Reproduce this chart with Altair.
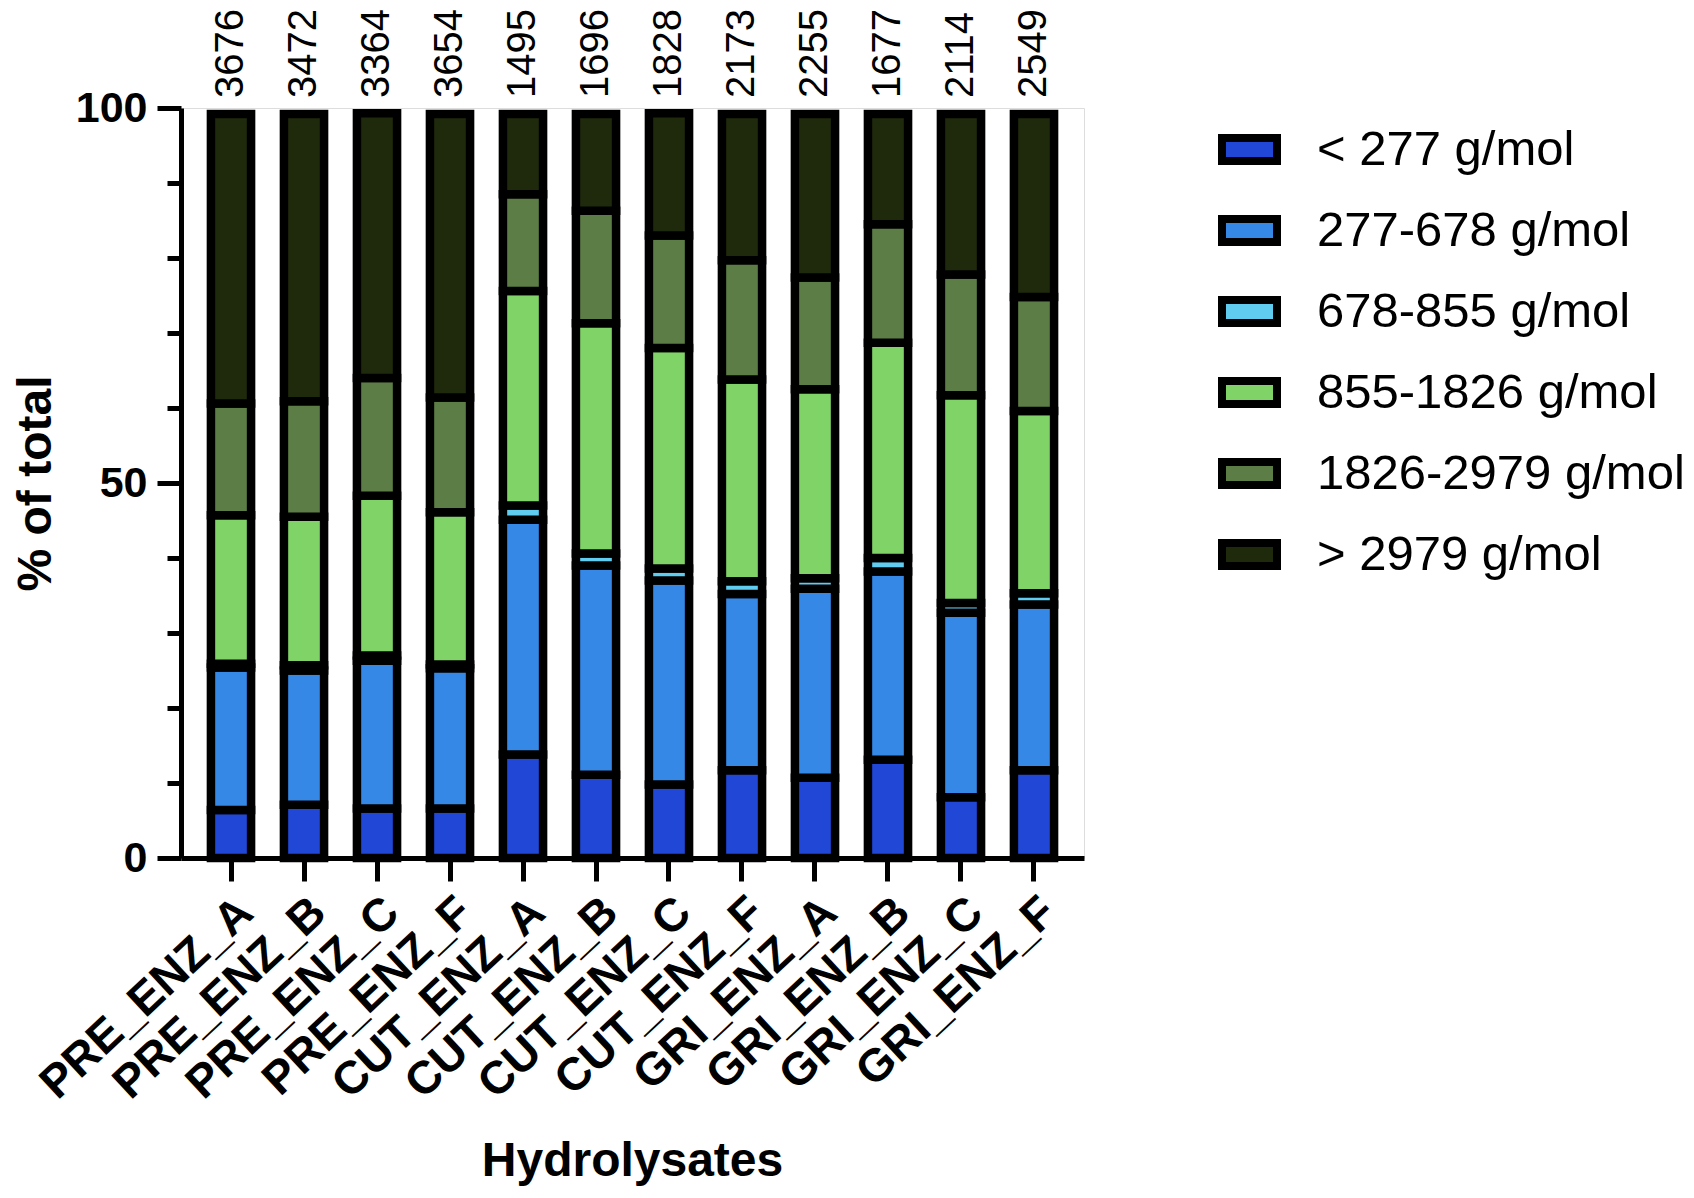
import altair as alt
import pandas as pd

categories = ["PRE_ENZ_A", "PRE_ENZ_B", "PRE_ENZ_C", "PRE_ENZ_F",
              "CUT_ENZ_A", "CUT_ENZ_B", "CUT_ENZ_C", "CUT_ENZ_F",
              "GRI_ENZ_A", "GRI_ENZ_B", "GRI_ENZ_C", "GRI_ENZ_F"]
totals = [3676, 3472, 3364, 3654, 1495, 1696, 1828, 2173, 2255, 1677, 2114, 2549]

series_names = ["< 277 g/mol", "277-678 g/mol", "678-855 g/mol",
                "855-1826 g/mol", "1826-2979 g/mol", "> 2979 g/mol"]
series_colors = ["#2047D6", "#3588E6", "#60CDF0", "#80D467", "#5C7D45", "#1F2A0C"]

lt277 = [6.4, 7.1, 6.6, 6.6, 13.8, 11.1, 9.8, 11.7, 10.7, 13.1, 8.1, 11.7]
s277_678 = [19.0, 17.9, 19.7, 18.7, 31.3, 27.9, 27.2, 23.5, 25.2, 25.1, 24.6, 22.1]
s678_855 = [0.5, 0.7, 0.7, 0.5, 1.9, 1.6, 1.6, 1.7, 1.4, 1.8, 1.3, 1.5]
s855_1826 = [19.8, 19.8, 21.3, 20.3, 28.6, 30.7, 29.4, 26.9, 25.2, 28.7, 27.7, 24.3]
s1826_2979 = [14.9, 15.4, 15.7, 15.3, 12.9, 15.0, 15.0, 15.9, 14.9, 15.8, 16.1, 15.2]
gt2979 = [38.6, 38.3, 35.3, 37.8, 10.7, 12.9, 16.3, 19.5, 21.8, 14.7, 21.4, 24.4]

all_series = [lt277, s277_678, s678_855, s855_1826, s1826_2979, gt2979]

rows = []
for si, (name, vals) in enumerate(zip(series_names, all_series)):
    for cat, v in zip(categories, vals):
        rows.append({"sample": cat, "range": name, "idx": si, "pct": v})
df = pd.DataFrame(rows)

labels_df = pd.DataFrame({"sample": categories, "n": [str(t) for t in totals],
                          "top": [100] * len(categories)})

FONT = "Liberation Sans"

x_enc = alt.X("sample:N", sort=categories,
              scale=alt.Scale(paddingInner=0.45, paddingOuter=0.41),
              axis=alt.Axis(title="Hydrolysates", labelAngle=-43,
                            labelFontSize=46, labelFontWeight="bold", labelFont=FONT,
                            labelColor="black", labelPadding=8, labelLimit=1000,
                            tickSize=23, tickWidth=5, tickColor="black",
                            domainWidth=5, domainColor="black",
                            titleFontSize=48, titleFontWeight="bold", titleFont=FONT,
                            titleColor="black", titleX=451, titleY=303,
                            titleBaseline="middle", titleAlign="center"))

bars = alt.Chart(df).mark_bar(stroke="black", strokeWidth=8.5).encode(
    x=x_enc,
    y=alt.Y("pct:Q", stack="zero",
            scale=alt.Scale(domain=[0, 100], nice=False),
            axis=alt.Axis(title="% of total",
                          values=list(range(0, 101, 5)),
                          labelExpr="datum.value % 50 === 0 ? datum.label : ''",
                          labelFontSize=43, labelFontWeight="bold", labelFont=FONT,
                          labelColor="black", labelPadding=10,
                          tickSize={"condition": {"test": "datum.value % 50 === 0", "value": 24}, "value": 14},
                          tickWidth=5, tickColor="black",
                          domainWidth=5, domainColor="black", grid=False,
                          titleFontSize=48, titleFontWeight="bold", titleFont=FONT,
                          titleColor="black", titleX=-145, titleY=375, titleAngle=270,
                          titleBaseline="middle", titleAlign="center")),
    color=alt.Color("range:N", sort=series_names,
                    scale=alt.Scale(domain=series_names, range=series_colors),
                    legend=alt.Legend(title=None, orient="none", legendX=1037, legendY=10,
                                      symbolType="M-1,-0.42H1V0.42H-1Z", symbolSize=3025,
                                      symbolStrokeColor="black", symbolStrokeWidth=8,
                                      symbolOpacity=1,
                                      labelFontSize=49, labelFont=FONT, labelColor="black",
                                      labelOffset=36, rowPadding=21, padding=0,
                                      labelLimit=600)),
    order=alt.Order("idx:Q", sort="ascending"),
)

texts = alt.Chart(labels_df).mark_text(angle=270, align="left", baseline="middle",
                                       fontSize=40, font=FONT, color="black", dx=10).encode(
    x=alt.X("sample:N", sort=categories),
    y=alt.Y("top:Q"),
    text="n:N",
)

chart = alt.layer(bars, texts).properties(
    width=903, height=750,
    autosize=alt.AutoSizeParams(type="none"),
    padding={"left": 173, "top": 100, "right": 600, "bottom": 332},
).configure_view(stroke=None).configure(background="white")

chart.save("out.html", embed_options={"renderer": "svg", "actions": False})
